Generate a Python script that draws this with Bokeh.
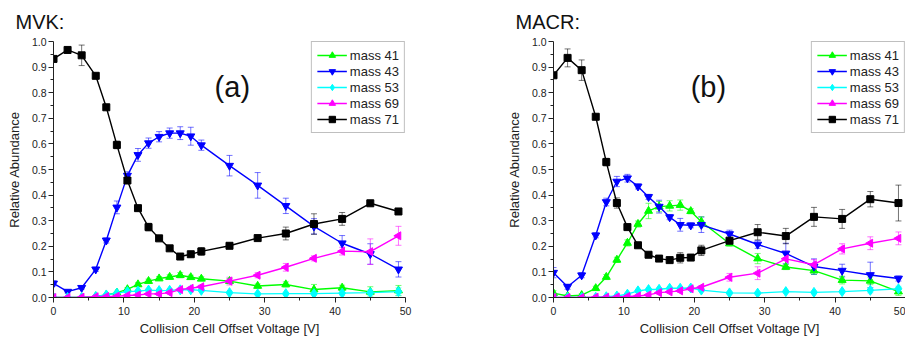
import numpy as np
from bokeh.plotting import figure
from bokeh.layouts import row
from bokeh.models import ColumnDataSource, Whisker, TeeHead, Label, FixedTicker, NumeralTickFormatter
from bokeh.embed import file_html
from bokeh.resources import INLINE

# ---------------- data ----------------
voltage = [0, 2, 4, 6, 7.5, 9, 10.5, 12, 13.5, 15, 16.5, 18, 19.5, 21, 25, 29, 33, 37, 41, 45, 49]

x_ticks = [0, 10, 20, 30, 40, 50]
y_ticks = [0.0, 0.1, 0.2, 0.3, 0.4, 0.5, 0.6, 0.7, 0.8, 0.9, 1.0]

series_names = ["mass 41", "mass 43", "mass 53", "mass 69", "mass 71"]

# MVK (a)
mvk_m41 = [0.0, 0.0, 0.0, 0.004, 0.010, 0.019, 0.032, 0.051, 0.064, 0.074, 0.080, 0.087, 0.079, 0.073, 0.064, 0.045, 0.051, 0.031, 0.038, 0.022, 0.027]
mvk_m43 = [0.055, 0.023, 0.038, 0.110, 0.223, 0.352, 0.476, 0.557, 0.603, 0.628, 0.642, 0.642, 0.630, 0.595, 0.515, 0.438, 0.358, 0.278, 0.212, 0.170, 0.110]
mvk_m53 = [0.0, 0.0, 0.0, 0.004, 0.010, 0.017, 0.023, 0.025, 0.029, 0.027, 0.028, 0.030, 0.030, 0.028, 0.019, 0.014, 0.015, 0.015, 0.017, 0.019, 0.023]
mvk_m69 = [0.0, 0.0, 0.001, 0.003, 0.004, 0.005, 0.008, 0.010, 0.014, 0.014, 0.019, 0.031, 0.036, 0.042, 0.064, 0.087, 0.118, 0.153, 0.181, 0.179, 0.241]
mvk_m71 = [0.932, 0.967, 0.946, 0.866, 0.743, 0.596, 0.457, 0.349, 0.275, 0.231, 0.192, 0.160, 0.169, 0.180, 0.202, 0.232, 0.250, 0.287, 0.307, 0.368, 0.336]

mvk_e41 = [0.003, 0.003, 0.003, 0.003, 0.004, 0.005, 0.006, 0.007, 0.008, 0.008, 0.009, 0.010, 0.008, 0.008, 0.010, 0.008, 0.010, 0.020, 0.010, 0.020, 0.020]
mvk_e43 = [0.010, 0.005, 0.005, 0.008, 0.010, 0.025, 0.015, 0.025, 0.020, 0.020, 0.020, 0.025, 0.035, 0.020, 0.040, 0.050, 0.030, 0.030, 0.030, 0.040, 0.030]
mvk_e53 = [0.002, 0.002, 0.002, 0.003, 0.003, 0.004, 0.004, 0.005, 0.005, 0.005, 0.005, 0.005, 0.005, 0.005, 0.005, 0.005, 0.005, 0.005, 0.008, 0.010, 0.015]
mvk_e69 = [0.002, 0.002, 0.002, 0.002, 0.002, 0.003, 0.003, 0.004, 0.005, 0.005, 0.005, 0.006, 0.006, 0.006, 0.015, 0.010, 0.015, 0.010, 0.015, 0.050, 0.037]
mvk_e71 = [0.005, 0.005, 0.040, 0.008, 0.008, 0.015, 0.010, 0.010, 0.015, 0.010, 0.010, 0.010, 0.010, 0.015, 0.010, 0.010, 0.025, 0.040, 0.025, 0.010, 0.010]

# MACR (b)
macr_m41 = [0.017, 0.006, 0.009, 0.036, 0.080, 0.147, 0.213, 0.287, 0.338, 0.355, 0.358, 0.361, 0.337, 0.296, 0.211, 0.152, 0.119, 0.105, 0.068, 0.065, 0.023]
macr_m43 = [0.097, 0.042, 0.087, 0.243, 0.373, 0.453, 0.466, 0.434, 0.393, 0.355, 0.314, 0.284, 0.282, 0.284, 0.248, 0.207, 0.172, 0.121, 0.105, 0.088, 0.074]
macr_m53 = [0.0, 0.0, 0.0, 0.001, 0.003, 0.006, 0.013, 0.026, 0.031, 0.032, 0.036, 0.036, 0.037, 0.029, 0.018, 0.017, 0.023, 0.020, 0.023, 0.028, 0.034]
macr_m69 = [0.0, 0.0, 0.0, 0.001, 0.001, 0.002, 0.004, 0.006, 0.010, 0.019, 0.022, 0.026, 0.034, 0.040, 0.079, 0.095, 0.151, 0.128, 0.190, 0.212, 0.231]
macr_m71 = [0.868, 0.936, 0.888, 0.706, 0.529, 0.369, 0.275, 0.204, 0.167, 0.152, 0.146, 0.155, 0.156, 0.184, 0.222, 0.255, 0.240, 0.315, 0.307, 0.384, 0.369]

macr_e41 = [0.010, 0.005, 0.005, 0.008, 0.010, 0.010, 0.012, 0.012, 0.030, 0.020, 0.020, 0.020, 0.010, 0.020, 0.010, 0.020, 0.010, 0.015, 0.015, 0.015, 0.015]
macr_e43 = [0.020, 0.010, 0.010, 0.010, 0.015, 0.020, 0.015, 0.010, 0.010, 0.025, 0.010, 0.025, 0.010, 0.030, 0.015, 0.015, 0.040, 0.030, 0.025, 0.050, 0.010]
macr_e53 = [0.002, 0.002, 0.002, 0.002, 0.003, 0.003, 0.004, 0.005, 0.005, 0.005, 0.005, 0.005, 0.005, 0.005, 0.005, 0.005, 0.005, 0.005, 0.005, 0.010, 0.010]
macr_e69 = [0.002, 0.002, 0.002, 0.002, 0.002, 0.002, 0.003, 0.003, 0.004, 0.005, 0.005, 0.006, 0.006, 0.006, 0.015, 0.025, 0.030, 0.020, 0.020, 0.025, 0.025]
macr_e71 = [0.010, 0.035, 0.040, 0.010, 0.015, 0.020, 0.010, 0.010, 0.010, 0.010, 0.010, 0.020, 0.010, 0.020, 0.010, 0.030, 0.030, 0.037, 0.037, 0.030, 0.070]

# ---------------- style ----------------
FONT = "Liberation Sans"
colors = ["#00ff00", "#0000ff", "#00ffff", "#ff00ff", "#000000"]
markers = ["triangle", "inverted_triangle", "diamond", "triangle", "square"]
angles = [0.0, 0.0, 0.0, np.pi / 2, 0.0]
sizes = [8, 8, 10, 8, 7]


def make_panel(title, title_offset, tag, tag_x, values, errors, width, border_left, border_right):
    p = figure(width=width, height=338, x_range=(0, 50), y_range=(0, 1.0),
               output_backend="svg", toolbar_location=None,
               min_border_left=border_left, min_border_right=border_right,
               min_border_top=41, min_border_bottom=36)
    p.outline_line_color = None
    p.grid.visible = False
    p.background_fill_color = "white"
    p.border_fill_color = "white"

    p.title.text = title
    p.title.align = "left"
    p.title.offset = title_offset
    p.title.text_font = FONT
    p.title.text_font_size = "20px"
    p.title.text_font_style = "normal"
    p.title.text_color = "#111111"
    p.title.standoff = 17

    for ax in (p.xaxis, p.yaxis):
        ax.axis_line_color = "#222222"
        ax.major_tick_line_color = "#222222"
        ax.minor_tick_line_color = "#222222"
        ax.major_tick_out = 5
        ax.major_tick_in = 0
        ax.minor_tick_out = 3
        ax.minor_tick_in = 0
        ax.major_label_text_font = FONT
        ax.major_label_text_font_size = "10.5px"
        ax.major_label_text_color = "#222222"
        ax.axis_label_text_font = FONT
        ax.axis_label_text_font_size = "13px"
        ax.axis_label_text_font_style = "normal"
        ax.axis_label_text_color = "#222222"

    p.xaxis.ticker = FixedTicker(ticks=x_ticks, minor_ticks=[5, 15, 25, 35, 45])
    p.yaxis.ticker = FixedTicker(ticks=y_ticks,
                                 minor_ticks=[0.05, 0.15, 0.25, 0.35, 0.45, 0.55, 0.65, 0.75, 0.85, 0.95])
    p.yaxis.formatter = NumeralTickFormatter(format="0.0")
    p.xaxis.major_label_standoff = 4
    p.yaxis.major_label_standoff = 2
    p.xaxis.axis_label = "Collision Cell Offset Voltage [V]"
    p.yaxis.axis_label = "Relative Abundance"
    p.xaxis.axis_label_standoff = 3
    p.yaxis.axis_label_standoff = 7

    for name, col, mk, ang, sz, y, e in zip(series_names, colors, markers, angles, sizes, values, errors):
        y = np.array(y)
        e = np.array(e)
        src = ColumnDataSource(dict(x=voltage, y=y, lo=y - e, hi=y + e,
                                    ang=[ang] * len(voltage)))
        p.add_layout(Whisker(source=src, base="x", upper="hi", lower="lo",
                             line_color=col, line_alpha=0.55, line_width=1,
                             upper_head=TeeHead(size=6, line_color=col, line_alpha=0.55),
                             lower_head=TeeHead(size=6, line_color=col, line_alpha=0.55)))
        p.line("x", "y", source=src, line_color=col, line_width=1.4, legend_label=name)
        p.scatter("x", "y", source=src, marker=mk, angle="ang", size=sz,
                  fill_color=col, line_color=col, legend_label=name)

    lg = p.legend[0]
    lg.location = "top_right"
    lg.margin = 0
    lg.padding = 5
    lg.spacing = 0
    lg.label_text_font = FONT
    lg.label_text_font_size = "13px"
    lg.label_text_color = "#222222"
    lg.label_standoff = 3
    lg.glyph_width = 30
    lg.glyph_height = 16
    lg.label_height = 16
    lg.border_line_color = "#808080"
    lg.border_line_width = 1.5
    lg.background_fill_color = "white"
    lg.background_fill_alpha = 1.0

    p.add_layout(Label(x=tag_x, y=0.824, text=tag, text_font=FONT, text_font_size="29px",
                       text_align="center", text_baseline="alphabetic", text_color="#111111"))
    return p


left = make_panel("MVK:", -38, "(a)", 25.4,
                  [mvk_m41, mvk_m43, mvk_m53, mvk_m69, mvk_m71],
                  [mvk_e41, mvk_e43, mvk_e53, mvk_e69, mvk_e71],
                  width=450, border_left=53, border_right=45)
right = make_panel("MACR:", -38, "(b)", 22.0,
                   [macr_m41, macr_m43, macr_m53, macr_m69, macr_m71],
                   [macr_e41, macr_e43, macr_e53, macr_e69, macr_e71],
                   width=455, border_left=103, border_right=0)

layout = row(left, right, spacing=0)
open("out.html", "w").write(file_html(layout, INLINE))
